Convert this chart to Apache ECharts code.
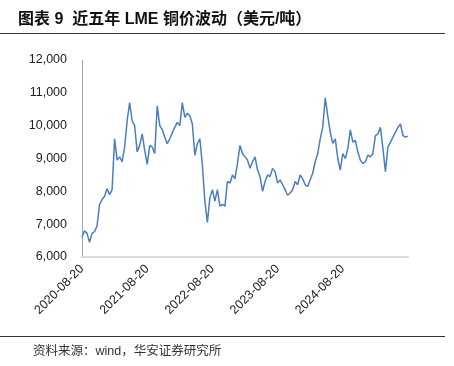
<!DOCTYPE html>
<html>
<head>
<meta charset="utf-8">
<script src="https://cdn.jsdelivr.net/npm/echarts@6/dist/echarts.min.js"></script>
<style>
  html, body { margin: 0; padding: 0; background: #fff; }
  #chart { width: 454px; height: 366px; }
</style>
</head>
<body>
<div id="chart"></div>
<script>
// LME copper, USD/t, sampled roughly every two weeks, one array per Aug-Aug year
const price2020 = [6600, 6800, 6720, 6450, 6720, 6770, 6950, 7600, 7750, 7850, 8080, 7900, 8050,
    9600, 8950, 9050, 8900, 9350, 10150, 10700, 10150, 10000, 9200, 9400, 9750, 9250]
const price2021 = [8820, 9400, 9350, 9150, 10600, 10000, 9880, 9650, 9450, 9600, 9780, 9950, 10100,
    10000, 10700, 10250, 10380, 10300, 10050, 9100, 9450, 9600, 8800, 7700, 7050, 7800]
const price2022 = [8050, 7700, 8050, 7550, 7600, 7550, 8300, 8250, 8500, 8380, 8850, 9400, 9150,
    9050, 8950, 8700, 8900, 9050, 8650, 8450, 8000, 8300, 8500, 8450, 8700, 8600]
const price2023 = [8250, 8350, 8200, 8050, 7880, 7950, 8050, 8300, 8200, 8500, 8380, 8200, 8150,
    8350, 8550, 8900, 9150, 9600, 9950, 10850, 10300, 9800, 9460, 9600, 9000, 8650]
const price2024 = [9150, 9000, 9300, 9870, 9500, 9550, 9200, 8950, 8850, 8900, 9100, 9050, 9150,
    9700, 9750, 9950, 9300, 8600, 9350, 9500, 9650, 9800, 9950, 10050, 9700, 9650]
const priceLast = [9680]

const startYears = [2020, 2021, 2022, 2023, 2024]
const lastDate = '2025-08-14'
const yTicks = { min: 6000, max: 12000, step: 1000 }

const fmt = (d) => d.toISOString().slice(0, 10)

// category dates: 26 per year, each year starting on 08-20
const dates = []
startYears.forEach((y) => {
    const base = Date.UTC(y, 7, 20)
    for (let j = 0; j < 26; j++) {
        dates.push(fmt(new Date(base + Math.round((j * 365) / 26) * 86400000)))
    }
})
dates.push(lastDate)

const prices = [...price2020, ...price2021, ...price2022, ...price2023, ...price2024, ...priceLast]

const cjk = '"Liberation Sans", Arial, "Noto Sans CJK SC", sans-serif'

const chart = echarts.init(document.getElementById('chart'), null, { renderer: 'canvas' })

chart.setOption({
    animation: false,
    grid: { left: 82, top: 60, width: 326, height: 197, containLabel: false },
    xAxis: {
        type: 'category',
        data: dates,
        boundaryGap: false,
        axisLine: { show: true, lineStyle: { color: '#d9d9d9', width: 2 } },
        axisTick: { show: false },
        axisLabel: {
            rotate: 45,
            margin: 10,
            fontSize: 12.5,
            color: '#222',
            fontFamily: cjk,
            interval: (idx, val) => val.endsWith('-08-20'),
        },
        splitLine: { show: false },
    },
    yAxis: {
        type: 'value',
        min: yTicks.min,
        max: yTicks.max,
        interval: yTicks.step,
        axisLine: { show: true, lineStyle: { color: '#a6a6a6', width: 1 } },
        axisTick: { show: false },
        splitLine: { show: false },
        axisLabel: {
            margin: 15,
            fontSize: 12.5,
            color: '#222',
            fontFamily: cjk,
            formatter: (v) => v.toLocaleString('en-US'),
        },
    },
    series: [
        {
            type: 'line',
            data: prices,
            showSymbol: false,
            lineStyle: { color: '#4a7ebf', width: 1.5 },
        },
    ],
    graphic: [
        {
            type: 'text',
            left: 18,
            top: 12,
            style: {
                text: '图表 9  近五年 LME 铜价波动（美元/吨）',
                font: 'bold 16px "Liberation Sans", "Noto Sans CJK SC", sans-serif',
                fill: '#111',
            },
        },
        {
            type: 'line',
            shape: { x1: 0, y1: 33.5, x2: 445, y2: 33.5 },
            style: { stroke: '#333', lineWidth: 1 },
        },
        {
            type: 'line',
            shape: { x1: 0, y1: 336.5, x2: 445, y2: 336.5 },
            style: { stroke: '#333', lineWidth: 1 },
        },
        {
            type: 'text',
            left: 33,
            top: 345,
            style: {
                text: '资料来源：wind，华安证券研究所',
                font: '12.5px "Liberation Sans", "Noto Sans CJK SC", sans-serif',
                fill: '#333',
            },
        },
    ],
})
</script>
</body>
</html>
